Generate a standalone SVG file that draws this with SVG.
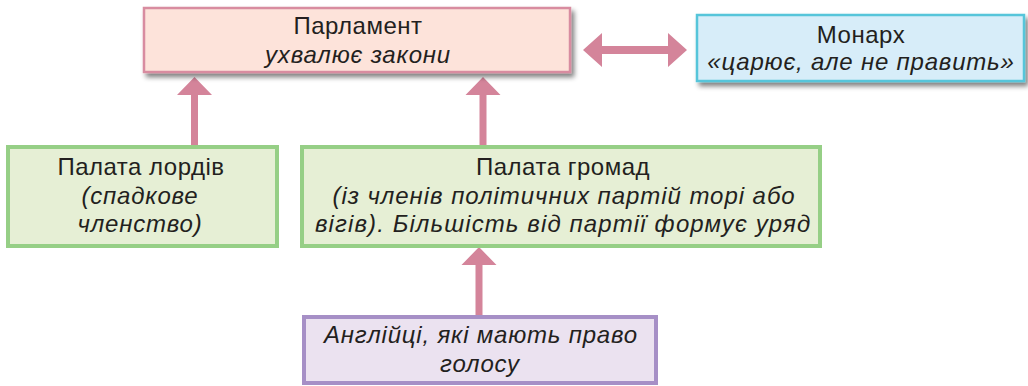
<svg xmlns="http://www.w3.org/2000/svg" width="1028" height="386" viewBox="0 0 1028 386">
<defs>
<filter id="sh" x="-5%" y="-20%" width="115%" height="160%">
<feGaussianBlur in="SourceAlpha" stdDeviation="2.5"/>
<feOffset dx="3" dy="4" result="b"/>
<feComponentTransfer><feFuncA type="linear" slope="0.5"/></feComponentTransfer>
<feMerge><feMergeNode/><feMergeNode in="SourceGraphic"/></feMerge>
</filter>
</defs>
<style>
text{font-family:"Liberation Sans",Arial,sans-serif;font-size:24px;fill:#231f20;text-anchor:middle;letter-spacing:0.5px}
.i{font-style:italic;letter-spacing:0.8px}
.pink{fill:#fde3da;stroke:#d88ca0;stroke-width:2.5}
.blue{fill:#d7edf9;stroke:#56c5da;stroke-width:2.5}
.green{fill:#e6efd5;stroke:#96cf86;stroke-width:4}
.purple{fill:#ebe2f0;stroke:#a68fc6;stroke-width:4}
.arr{fill:#d4849a}
</style>
<g id="connectors">
<path class="arr" d="M191 147 V95 H177 L194.5 77 L212 95 H198 V147 Z"/>
<path class="arr" d="M479.5 147 V95 H465.5 L483 77 L500.5 95 H486.5 V147 Z"/>
<path class="arr" d="M475.5 317 V265 H461.5 L479 247 L496.5 265 H482.5 V317 Z"/>
<path class="arr" d="M583 50 L602 33 V46 H668 V33 L687 50 L668 67 V54 H602 V67 Z"/>
</g>
<g id="parliament">
<rect class="pink" x="144" y="8" width="426" height="64" filter="url(#sh)"/>
<text x="358" y="34">Парламент</text>
<text class="i" x="358" y="63">ухвалює закони</text>
</g>
<g id="monarch">
<rect class="blue" x="697" y="15" width="327" height="66" filter="url(#sh)"/>
<text x="861" y="43">Монарх</text>
<text class="i" x="861" y="70">«царює, але не править»</text>
</g>
<g id="lords">
<rect class="green" x="8" y="147" width="269" height="99"/>
<text x="141" y="175">Палата лордів</text>
<text class="i" x="140" y="204">(спадкове</text>
<text class="i" x="140" y="232">членство)</text>
</g>
<g id="commons">
<rect class="green" x="302" y="147" width="518" height="99"/>
<text x="563" y="175">Палата громад</text>
<text class="i" x="564" y="204" textLength="463" lengthAdjust="spacing">(із членів політичних партій торі або</text>
<text class="i" x="563" y="232" textLength="496" lengthAdjust="spacing">вігів). Більшість від партії формує уряд</text>
</g>
<g id="voters">
<rect class="purple" x="304" y="317" width="352" height="66"/>
<text class="i" x="481" y="343">Англійці, які мають право</text>
<text class="i" x="480" y="372">голосу</text>
</g>
</svg>
